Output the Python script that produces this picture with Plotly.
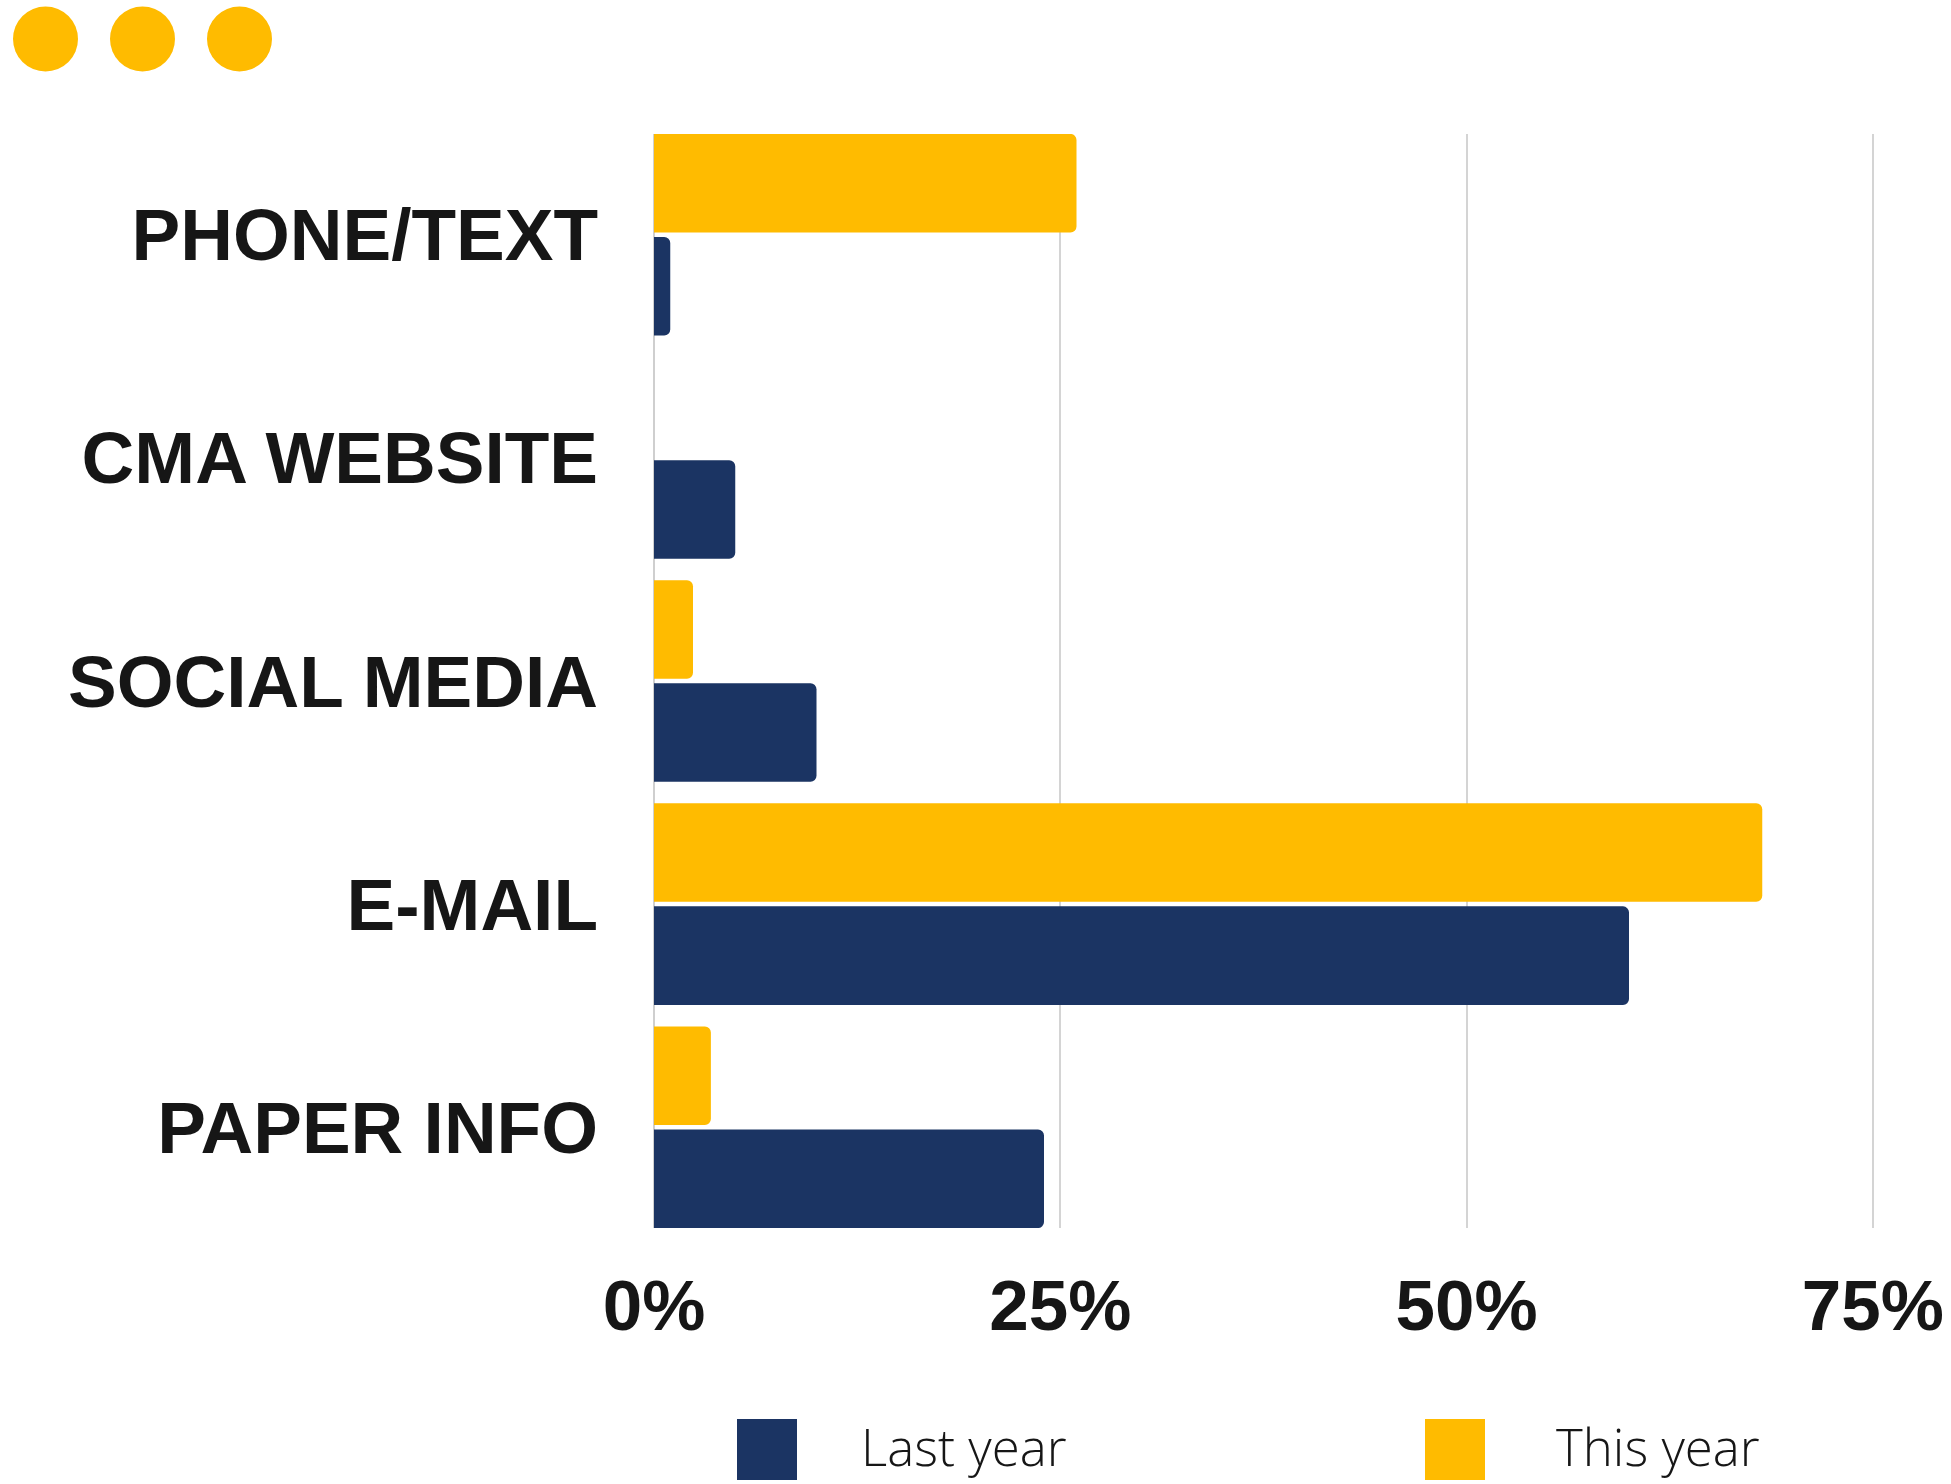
import plotly.graph_objects as go

# Data
categories = ["PHONE/TEXT", "CMA WEBSITE", "SOCIAL MEDIA", "E-MAIL", "PAPER INFO"]
last_year = [1, 5, 10, 60, 24]
this_year = [26, 0, 2.4, 68.2, 3.5]
series_names = ["Last year", "This year"]
tick_values = [0, 25, 50, 75]
tick_labels = ["0%", "25%", "50%", "75%"]

NAVY = "#1B3463"
GOLD = "#FFBB00"
INK = "#161616"

W, H = 1951, 1484
M_L, M_R, M_T, M_B = 654, 62, 134, 256
PW, PH = W - M_L - M_R, H - M_T - M_B


def px_x(px):
    return (px - M_L) / PW


def px_y(py):
    return (H - M_B - py) / PH


fig = go.Figure()
fig.add_trace(go.Bar(
    y=categories, x=last_year, orientation="h", name=series_names[0],
    marker=dict(color=NAVY, line=dict(width=0)), showlegend=False,
))
fig.add_trace(go.Bar(
    y=categories, x=this_year, orientation="h", name=series_names[1],
    marker=dict(color=GOLD, line=dict(width=0)), showlegend=False,
))

shapes = []
annotations = []

# three decorative dots in the top-left corner
for cx in (45.5, 142.5, 239.5):
    shapes.append(dict(
        type="circle", xref="paper", yref="paper",
        x0=px_x(cx - 32.5), x1=px_x(cx + 32.5),
        y0=px_y(39 + 32.5), y1=px_y(39 - 32.5),
        fillcolor=GOLD, line=dict(width=0), layer="above",
    ))

# legend swatches and labels
for name, color, sx, tx in ((series_names[0], NAVY, 737, 859),
                            (series_names[1], GOLD, 1425, 1554)):
    shapes.append(dict(
        type="rect", xref="paper", yref="paper",
        x0=px_x(sx), x1=px_x(sx + 60),
        y0=px_y(1480), y1=px_y(1419),
        fillcolor=color, line=dict(width=0), layer="above",
    ))
    annotations.append(dict(
        text=name, xref="paper", yref="paper",
        x=px_x(tx), y=px_y(1446), xanchor="left", yanchor="middle",
        showarrow=False,
        font=dict(family="Open Sans", size=51, color=INK, weight=300),
    ))

fig.update_layout(
    template="none",
    width=W, height=H,
    margin=dict(l=M_L, r=M_R, t=M_T, b=M_B, autoexpand=False),
    paper_bgcolor="white", plot_bgcolor="white",
    barmode="group", bargap=0.076, bargroupgap=0.0437,
    barcornerradius=6,
    showlegend=False,
    shapes=shapes, annotations=annotations,
)

fig.update_xaxes(
    range=[0, 76], automargin=False,
    tickvals=tick_values, ticktext=tick_labels,
    showgrid=True, gridcolor="#d4d4d4", gridwidth=1.5,
    zeroline=True, zerolinecolor="#cfcfcf", zerolinewidth=2,
    showline=False, ticks="",
    ticklabelstandoff=30,
    tickfont=dict(family="Liberation Sans", size=71, color=INK, weight="bold"),
)
fig.update_yaxes(
    categoryorder="array", categoryarray=categories[::-1],
    range=[-0.4516, 4.4516], automargin=False,
    showgrid=False, zeroline=False, showline=False, ticks="",
    ticklabelstandoff=55,
    tickfont=dict(family="Liberation Sans", size=73, color=INK, weight="bold"),
)

fig.write_html("out.html")
